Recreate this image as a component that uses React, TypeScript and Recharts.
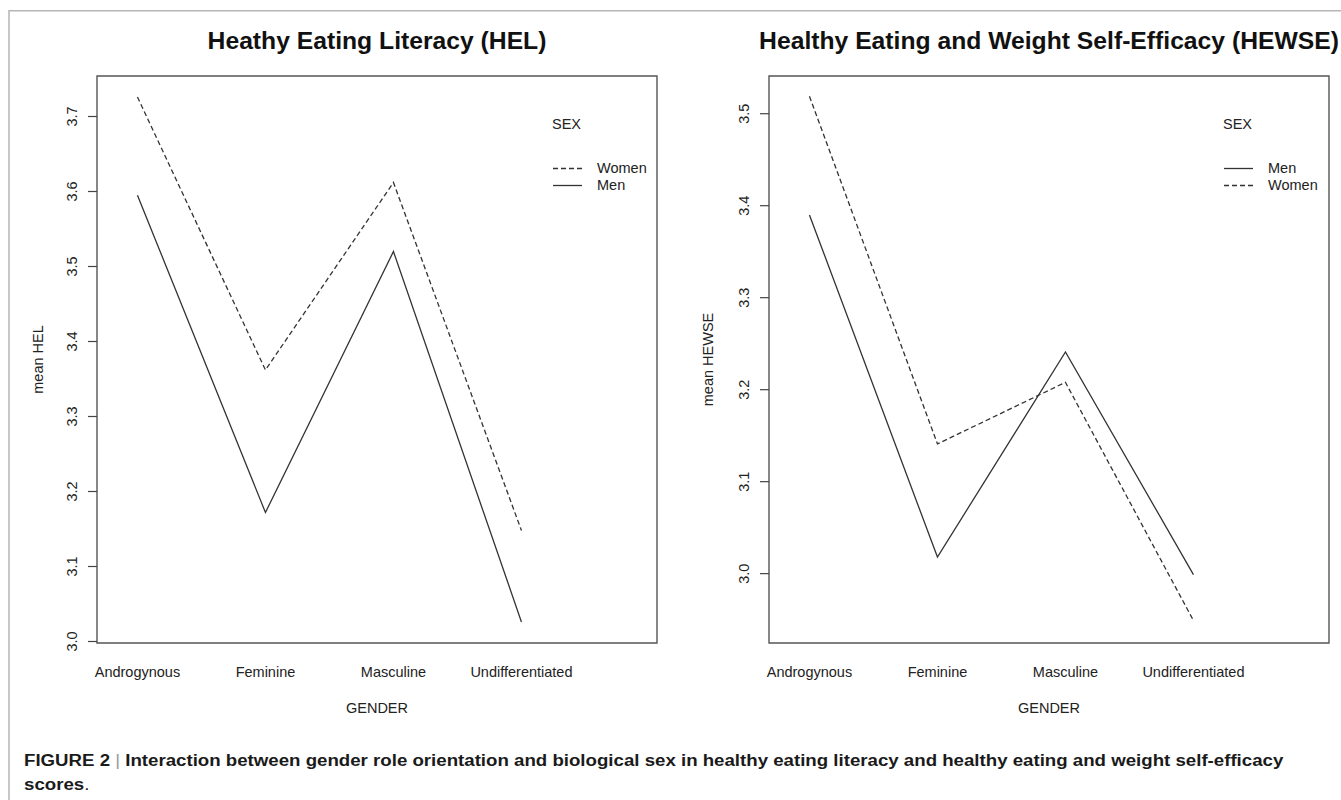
import React from 'react';
import { LineChart, Line, XAxis, YAxis, ReferenceArea, Legend } from 'recharts';

const FONT = "'Liberation Sans', Arial, Helvetica, sans-serif";

// ---- data ----
const categories = ['Androgynous', 'Feminine', 'Masculine', 'Undifferentiated'];
const helWomen = [3.726, 3.362, 3.612, 3.148];
const helMen = [3.595, 3.172, 3.52, 3.026];
const hewseMen = [3.39, 3.018, 3.241, 2.999];
const hewseWomen = [3.519, 3.141, 3.208, 2.949];
const helTicks = [3.0, 3.1, 3.2, 3.3, 3.4, 3.5, 3.6, 3.7];
const hewseTicks = [3.0, 3.1, 3.2, 3.3, 3.4, 3.5];
const helDomain: [number, number] = [2.998, 3.754];
const hewseDomain: [number, number] = [2.9246, 3.541];
const xPositions = [1, 2, 3, 4];
const xDomain: [number, number] = [0.684, 5.059];

const helData = categories.map((c, i) => ({ x: xPositions[i], gender: c, women: helWomen[i], men: helMen[i] }));
const hewseData = categories.map((c, i) => ({ x: xPositions[i], gender: c, women: hewseWomen[i], men: hewseMen[i] }));

const LINE_COLOR = '#333';
const DASH = '5 3';

type Item = { key: string; name: string; dashed: boolean };
const helLegend: Item[] = [
  { key: 'women', name: 'Women', dashed: true },
  { key: 'men', name: 'Men', dashed: false },
];
const hewseLegend: Item[] = [
  { key: 'men', name: 'Men', dashed: false },
  { key: 'women', name: 'Women', dashed: true },
];

const XTick = (props: any) => {
  const { x, y, payload } = props;
  return (
    <text x={x} y={y + 33.7} textAnchor="middle" fontSize={14.5} fill="#222" fontFamily={FONT}>
      {categories[Math.round(payload.value) - 1]}
    </text>
  );
};

const YTick = (props: any) => {
  const { x, y, payload } = props;
  const bx = x - 11;
  return (
    <text
      x={bx}
      y={y}
      transform={`rotate(-90 ${bx} ${y})`}
      textAnchor="middle"
      fontSize={14.5}
      fill="#222"
      fontFamily={FONT}
    >
      {Number(payload.value).toFixed(1)}
    </text>
  );
};

const LegendBox = ({ items }: { items: Item[] }) => (
  <div style={{ fontFamily: FONT, fontSize: 14.5, color: '#222', lineHeight: '17px' }}>
    <div style={{ height: 17 }}>SEX</div>
    <div style={{ height: 26.5 }} />
    {items.map((it) => (
      <div key={it.key} style={{ display: 'flex', alignItems: 'center', height: 17 }}>
        <svg width={31} height={17} style={{ display: 'block' }}>
          <line
            x1={1}
            x2={30}
            y1={8.5}
            y2={8.5}
            stroke={LINE_COLOR}
            strokeWidth={1.3}
            strokeDasharray={it.dashed ? DASH : undefined}
          />
        </svg>
        <span style={{ marginLeft: 14 }}>{it.name}</span>
      </div>
    ))}
  </div>
);

type PanelProps = {
  data: any[];
  yDomain: [number, number];
  yTicks: number[];
  legend: Item[];
  width: number;
  rightMargin: number;
  legendLeft: number;
};

const Panel = ({ data, yDomain, yTicks, legend, width, rightMargin, legendLeft }: PanelProps) => (
  <LineChart width={width} height={800} data={data} margin={{ top: 76, right: rightMargin, bottom: 77, left: 0 }}>
    <XAxis
      dataKey="x"
      type="number"
      domain={xDomain}
      ticks={xPositions}
      allowDataOverflow
      interval={0}
      tick={<XTick />}
      tickLine={false}
      axisLine={false}
      tickSize={0}
      tickMargin={0}
      height={80}
    />
    <YAxis
      type="number"
      domain={yDomain}
      ticks={yTicks}
      allowDataOverflow
      interval={0}
      width={97}
      tickSize={9}
      tickMargin={0}
      axisLine={false}
      tickLine={{ stroke: '#444', strokeWidth: 1.2 }}
      tick={<YTick />}
    />
    <ReferenceArea
      x1={xDomain[0]}
      x2={xDomain[1]}
      y1={yDomain[0]}
      y2={yDomain[1]}
      fill="#fff"
      fillOpacity={0}
      stroke="#555"
      strokeWidth={1.4}
      strokeOpacity={1}
      ifOverflow="visible"
    />
    {legend.map((it) => (
      <Line
        key={it.key}
        type="linear"
        dataKey={it.key}
        name={it.name}
        stroke={LINE_COLOR}
        strokeWidth={1.3}
        strokeDasharray={it.dashed ? DASH : undefined}
        dot={false}
        activeDot={false}
        isAnimationActive={false}
      />
    ))}
    <Legend
      layout="vertical"
      align="center"
      verticalAlign="middle"
      wrapperStyle={{ left: legendLeft, top: 116, width: 'auto' }}
      content={() => <LegendBox items={legend} />}
    />
  </LineChart>
);

export default function App() {
  return (
    <div
      style={{
        position: 'absolute',
        left: 0,
        top: 0,
        width: 1341,
        height: 800,
        overflow: 'hidden',
        background: '#fff',
        fontFamily: FONT,
      }}
    >
      <div style={{ position: 'absolute', left: 0, top: 0 }}>
        <Panel
          data={helData}
          yDomain={helDomain}
          yTicks={helTicks}
          legend={helLegend}
          width={700}
          rightMargin={43}
          legendLeft={552}
        />
      </div>
      <div style={{ position: 'absolute', left: 672, top: 0 }}>
        <Panel
          data={hewseData}
          yDomain={hewseDomain}
          yTicks={hewseTicks}
          legend={hewseLegend}
          width={669}
          rightMargin={12}
          legendLeft={551}
        />
      </div>
      <svg
        width={1341}
        height={800}
        style={{ position: 'absolute', left: 0, top: 0, pointerEvents: 'none' }}
        fontFamily={FONT}
      >
        <line x1={9} y1={10.7} x2={1341} y2={10.7} stroke="#b5b5b5" strokeWidth={1.5} />
        <line x1={9} y1={10} x2={9} y2={800} stroke="#b5b5b5" strokeWidth={1.5} />
        <text x={377} y={48.5} textAnchor="middle" fontSize={24.7} fontWeight="bold" fill="#111">
          Heathy Eating Literacy (HEL)
        </text>
        <text x={1049} y={48.5} textAnchor="middle" fontSize={24.7} fontWeight="bold" fill="#111">
          Healthy Eating and Weight Self-Efficacy (HEWSE)
        </text>
        <text x={42.5} y={359.5} transform="rotate(-90 42.5 359.5)" textAnchor="middle" fontSize={14.5} fill="#222">
          mean HEL
        </text>
        <text x={712.5} y={359.5} transform="rotate(-90 712.5 359.5)" textAnchor="middle" fontSize={14.5} fill="#222">
          mean HEWSE
        </text>
        <text x={377} y={712.5} textAnchor="middle" fontSize={14.5} fill="#222">
          GENDER
        </text>
        <text x={1049} y={712.5} textAnchor="middle" fontSize={14.5} fill="#222">
          GENDER
        </text>
        <g transform="translate(24 0) scale(1.098 1)">
          <text x={0} y={766} fontSize={17} fontWeight="bold" fill="#1a1a1a">
            FIGURE 2{' '}
            <tspan fontWeight="normal" fill="#999">|</tspan>{' '}
            Interaction between gender role orientation and biological sex in healthy eating literacy and healthy eating and weight self-efficacy
          </text>
          <text x={0} y={790.5} fontSize={17} fontWeight="bold" fill="#1a1a1a">
            scores<tspan fontWeight="normal">.</tspan>
          </text>
        </g>
      </svg>
    </div>
  );
}
